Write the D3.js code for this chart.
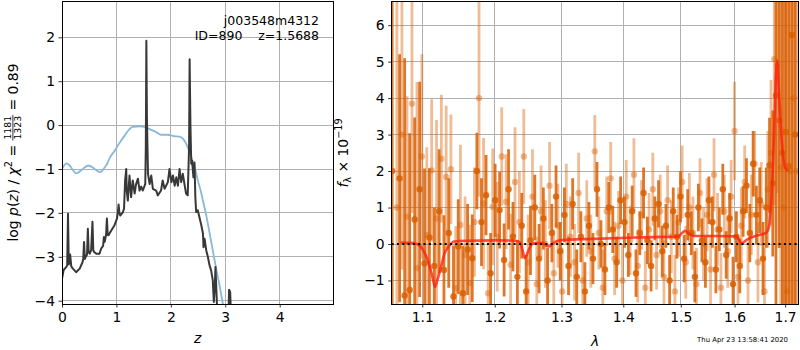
<!DOCTYPE html>
<html><head><meta charset="utf-8">
<script src="https://cdn.jsdelivr.net/npm/d3@7"></script>
<style>body{margin:0;background:#fff} text{font-family:"DejaVu Sans",sans-serif; white-space:pre}</style>
</head><body><svg id="chart" width="800" height="350"></svg>
<script>
// ---------- left panel data: log p(z) and scaled chi2 ----------
const pzZ = [0.00,0.03,0.08,0.095,0.11,0.125,0.15,0.17,0.20,0.26,0.325,0.375,0.39,0.405,0.42,0.435,0.46,0.475,0.49,0.51,0.535,0.56,0.575,0.59,0.63,0.69,0.72,0.755,0.77,0.785,0.81,0.825,0.84,0.855,0.905,0.965,1.01,1.025,1.04,1.055,1.07,1.12,1.14,1.16,1.18,1.19,1.21,1.24,1.27,1.30,1.335,1.36,1.395,1.425,1.455,1.485,1.53,1.54,1.55,1.56,1.58,1.61,1.64,1.67,1.73,1.76,1.82,1.85,1.885,1.945,1.975,2.01,2.04,2.07,2.10,2.13,2.16,2.19,2.22,2.255,2.28,2.31,2.335,2.345,2.36,2.375,2.39,2.415,2.435,2.45,2.465,2.495,2.525,2.56,2.59,2.60,2.62,2.65,2.68,2.71,2.74,2.77,2.79,2.81,2.82,2.845,2.87,3.00,3.055,3.07,3.09,3.11,3.25];
const pzLog = [-3.50,-3.30,-3.23,-3.20,-2.02,-3.17,-2.95,-3.22,-3.27,-3.35,-3.27,-3.13,-3.05,-2.66,-3.05,-3.00,-2.95,-2.36,-2.90,-2.93,-2.85,-2.20,-2.85,-2.89,-2.93,-2.93,-2.81,-2.75,-2.55,-2.66,-2.50,-2.13,-2.50,-2.51,-2.40,-2.28,-2.13,-2.00,-1.81,-2.00,-2.06,-1.98,-1.90,-1.25,-1.00,-1.50,-1.72,-1.15,-1.64,-1.26,-1.56,-1.35,-1.22,-1.49,-1.40,-1.49,-1.34,-0.50,1.92,0.20,-1.11,-1.34,-1.15,-1.45,-1.49,-1.60,-1.49,-1.26,-1.45,-1.30,-1.00,-1.30,-1.15,-1.38,-1.19,-1.38,-1.00,-1.30,-1.11,-1.38,-1.56,-1.60,-0.50,1.50,0.00,-0.88,-0.81,-1.19,-0.85,-1.64,-1.98,-1.94,-2.10,-2.28,-2.47,-2.78,-2.59,-2.85,-3.00,-3.19,-3.31,-3.53,-4.03,-3.61,-3.23,-4.03,-4.50,-5.00,-4.50,-3.75,-3.80,-4.50,-6.00];
const chiZ = [0,0.04,0.08,0.14,0.20,0.26,0.32,0.40,0.48,0.57,0.63,0.69,0.74,0.78,0.83,0.88,0.97,1.06,1.15,1.24,1.30,1.43,1.55,1.64,1.73,1.82,1.94,2.05,2.16,2.22,2.28,2.34,2.40,2.45,2.50,2.55,2.60,2.65,2.70,2.77,2.83,2.89,2.96];
const chiY = [-1.0,-0.92,-0.87,-0.92,-1.02,-1.10,-1.06,-0.98,-0.92,-0.97,-1.03,-1.07,-1.04,-0.97,-0.88,-0.74,-0.58,-0.40,-0.24,-0.09,-0.04,-0.03,-0.06,-0.11,-0.16,-0.22,-0.22,-0.25,-0.26,-0.31,-0.42,-0.60,-0.81,-1.02,-1.28,-1.50,-1.78,-2.05,-2.38,-2.85,-3.25,-3.62,-4.10];
const zTicks = [0,1,2,3,4];
const pzTicks = [-4,-3,-2,-1,0,1,2];
const titleLines = ["j003548m4312", "ID=890    z=1.5688"];

// ---------- right panel data: spectrum ----------
const waveA = [1.061,1.0705,1.077,1.0835,1.090,1.0965,1.103,1.1095,1.116,1.1225,1.129,1.1355,1.142,1.1485,1.155,1.1615,1.168,1.1745,1.181,1.1875,1.194,1.2005,1.207,1.2135,1.220,1.2265,1.233,1.2395,1.246,1.2525,1.259,1.2655,1.272,1.2785,1.285,1.2915,1.298,1.3045,1.311,1.3175,1.324,1.3305,1.337,1.3435,1.350,1.3565,1.363,1.3695,1.376,1.3825,1.389,1.3955,1.402,1.4085,1.415,1.4215,1.428,1.4345,1.441,1.4475,1.454,1.4605,1.467,1.4735,1.480,1.4865,1.493,1.4995,1.506,1.5125,1.519,1.5255,1.532,1.5385,1.545,1.5515,1.558,1.5645,1.571,1.5775,1.584,1.5905,1.597,1.6035,1.610,1.6165,1.623,1.6295,1.636,1.6425,1.649,1.6555,1.662,1.6685,1.675,1.6815,1.688,1.6945,1.701,1.7075,1.714,1.7205];
const fluxA = [2.0,1.8,-1.41,-1.26,0.67,1.5,-0.53,0.18,-0.6,0.9,
 -0.71,0.3,-1.44,-0.07,-1.35,-0.15,-0.39,2.0,0.6,1.34,
 -0.8,1.2,0.93,-0.44,1.5,0.2,-0.9,0.5,-1.3,0.1,
 1.0,-0.4,0.7,-1.0,0.3,1.3,-0.2,0.8,-0.6,1.1,
 -0.9,0.2,-1.3,0.5,-0.4,1.5,0.0,-0.7,1.0,0.4,
 -0.5,1.2,0.6,-0.3,0.9,-0.8,0.3,1.4,0.1,-0.6,
 0.7,1.1,-0.2,0.5,-1.0,0.9,0.2,1.3,-0.4,0.8,
 0.3,-0.9,1.0,0.1,-0.5,1.2,0.6,-0.7,0.4,1.5,
 -0.3,0.7,-1.1,0.2,-0.6,0.9,1.6,0.3,2.2,0.8,
 1.2,-0.4,1.0,2.16,1.66,4.07,3.39,2.5,3.07,2.14,5.73,3.0];
const errA = [6.0,3.4,6.5,4.3,2.8,2.95,2.6,1.9,1.6,1.7,
 1.5,1.5,1.4,1.3,1.3,1.25,1.2,1.05,1.2,1.1,
 1.1,1.0,1.05,1.0,1.1,0.95,1.0,0.9,1.0,0.95,
 0.9,0.95,0.85,0.9,0.8,0.85,0.8,0.75,0.8,0.7,
 0.75,0.7,0.8,0.65,0.7,0.75,0.65,0.7,0.7,0.65,
 0.7,0.65,0.7,0.6,0.7,0.65,0.6,0.7,0.65,0.7,
 0.6,0.65,0.7,0.6,0.7,0.65,0.6,0.7,0.65,0.7,
 0.6,0.7,0.65,0.6,0.7,0.65,0.7,0.65,0.6,0.7,
 0.65,0.7,0.75,0.7,0.75,0.7,0.75,0.8,0.9,0.8,
 0.9,1.0,1.1,1.3,2.0,7.0,3.5,5.0,8.0,6.0,9.0,9.0];
const waveB = [1.067,1.0735,1.080,1.0865,1.093,1.0995,1.106,1.1125,1.119,1.1255,1.132,1.1385,1.145,1.1515,1.158,1.1645,1.171,1.1775,1.184,1.1905,1.197,1.2035,1.210,1.2165,1.223,1.2295,1.236,1.2425,1.249,1.2555,1.262,1.2685,1.275,1.2815,1.288,1.2945,1.301,1.3075,1.314,1.3205,1.327,1.3335,1.340,1.3465,1.353,1.3595,1.366,1.3725,1.379,1.3855,1.392,1.3985,1.405,1.4115,1.418,1.4245,1.431,1.4375,1.444,1.4505,1.457,1.4635,1.470,1.4765,1.483,1.4895,1.496,1.5025,1.509,1.5155,1.522,1.5285,1.535,1.5415,1.548,1.5545,1.561,1.5675,1.574,1.5805,1.587,1.5935,1.600,1.6065,1.613,1.6195,1.626,1.6325,1.639,1.6455,1.652,1.6585,1.665,1.6715,1.678,1.6845,1.691,1.6975,1.704,1.7105,1.717,1.7235];
const fluxB = [1.0,3.0,0.75,3.85,-0.66,2.4,0.25,2.02,0.70,2.34,
 1.84,2.05,-1.21,0.52,-0.3,-1.07,0.6,4.0,1.11,-1.35,
 1.02,0.2,2.4,1.16,-0.57,1.7,0.6,2.4,-0.5,1.3,
 -1.1,0.9,0.0,1.6,-0.8,0.5,-1.3,1.1,0.2,-0.5,
 1.4,-1.0,0.7,-0.2,2.54,0.3,-1.2,0.9,1.8,-0.4,
 0.5,-1.0,1.3,0.1,1.9,-0.6,0.8,-1.2,0.4,1.5,
 -0.3,0.9,-0.9,1.2,0.2,-1.3,0.6,1.7,-0.5,1.0,
 0.3,-1.1,1.4,0.0,0.8,-0.7,1.9,0.4,-1.2,0.9,
 -0.2,1.3,3.1,-0.9,0.5,1.7,-1.0,0.8,2.2,-0.5,
 1.1,-1.3,1.5,2.5,5.07,4.9,2.1,1.0,-1.3,2.0,4.0,2.0];
const errB = [6.0,3.7,3.3,3.0,5.1,2.8,2.4,1.95,2.7,1.75,
 1.95,1.5,1.7,2.2,1.6,1.6,1.5,2.7,1.8,1.4,
 1.6,1.5,1.35,1.3,1.4,1.5,1.4,1.3,1.3,1.3,
 1.3,1.25,1.2,1.2,1.2,1.15,1.2,1.1,1.1,1.05,
 1.1,1.0,1.05,1.0,1.0,1.0,1.05,0.95,1.0,1.0,
 0.95,1.0,1.0,0.95,1.0,1.0,0.95,1.0,1.0,1.0,
 0.95,1.0,1.0,0.95,1.0,1.0,0.95,1.0,1.0,0.95,
 1.0,1.0,0.95,1.0,1.0,0.95,1.0,1.0,0.95,1.0,
 1.0,1.0,1.35,1.0,1.05,1.0,1.05,1.1,0.9,1.1,
 1.15,1.2,1.6,2.0,4.0,3.5,5.5,6.0,8.0,6.0,7.0,8.0];
const modelWave = [1.072,1.085,1.093,1.101,1.106,1.110,1.114,1.117,1.120,1.124,1.130,1.137,1.143,1.160,1.200,1.230,1.237,1.241,1.244,1.248,1.252,1.258,1.270,1.276,1.281,1.287,1.297,1.312,1.350,1.406,1.450,1.496,1.502,1.508,1.515,1.523,1.560,1.604,1.609,1.614,1.620,1.624,1.640,1.652,1.663,1.667,1.670,1.673,1.6775,1.6816,1.684,1.688,1.693,1.700,1.705];
const modelFlux = [0.04,0.03,0.00,-0.16,-0.38,-0.62,-0.95,-1.18,-1.00,-0.71,-0.25,-0.03,0.07,0.09,0.10,0.09,0.04,-0.20,-0.39,-0.25,-0.07,0.02,0.03,-0.03,-0.07,0.02,0.10,0.12,0.14,0.17,0.19,0.21,0.30,0.36,0.28,0.22,0.22,0.21,0.10,0.01,0.08,0.12,0.22,0.26,0.32,0.45,0.80,1.40,3.00,4.67,5.03,4.00,2.84,2.10,2.00];
const lamTicks = [1.1,1.2,1.3,1.4,1.5,1.6,1.7];
const fTicks = [-1,0,1,2,3,4,5,6];
const stamp = "Thu Apr 23 13:58:41 2020";

// ---------- layout ----------
const svg = d3.select('#chart');
const L = {l:62, r:333.3, t:1, b:304};
const R = {l:391.7, r:798.5, t:1, b:304};
const xL = d3.scaleLinear().domain([0, 4.985]).range([L.l, L.r]);
const yL = d3.scaleLinear().domain([-4.075, 2.827]).range([L.b, L.t]);
const xR = d3.scaleLog().domain([1.0604, 1.7275]).range([R.l, R.r]);
const yR = d3.scaleLinear().domain([-1.645, 6.663]).range([R.b, R.t]);
const FS = 13.9;

const defs = svg.append('defs');
[['clipL',L],['clipR',R]].forEach(([id,b])=>{
  defs.append('clipPath').attr('id',id).append('rect')
    .attr('x',b.l).attr('y',b.t).attr('width',b.r-b.l).attr('height',b.b-b.t);
});

function grid(b, xs, xt, ys, yt){
  const g = svg.append('g').attr('stroke','#b0b0b0').attr('stroke-width',1).attr('shape-rendering','crispEdges');
  g.selectAll('.gx').data(xt).join('line').attr('x1',d=>xs(d)).attr('x2',d=>xs(d)).attr('y1',b.t).attr('y2',b.b);
  g.selectAll('.gy').data(yt).join('line').attr('y1',d=>ys(d)).attr('y2',d=>ys(d)).attr('x1',b.l).attr('x2',b.r);
}
function axes(b, xs, xt, xf, ys, yt, yf){
  const gx = svg.append('g').attr('transform',`translate(0,${b.b})`)
    .call(d3.axisBottom(xs).tickValues(xt).tickFormat(xf).tickSize(3.5).tickPadding(5.1));
  const gy = svg.append('g').attr('transform',`translate(${b.l},0)`)
    .call(d3.axisLeft(ys).tickValues(yt).tickFormat(yf).tickSize(3.5).tickPadding(3.5));
  [gx,gy].forEach(g=>{
    g.select('.domain').remove();
    g.attr('font-size',FS).attr('font-family','DejaVu Sans');
    g.selectAll('line').attr('stroke','#000').attr('stroke-width',0.8);
    g.selectAll('text').attr('fill','#000');
  });
  svg.append('rect').attr('x',b.l).attr('y',b.t).attr('width',b.r-b.l).attr('height',b.b-b.t)
    .attr('fill','none').attr('stroke','#000').attr('stroke-width',1).attr('shape-rendering','crispEdges');
}

// ---------- left panel ----------
grid(L, xL, zTicks, yL, pzTicks);
const gL = svg.append('g').attr('clip-path','url(#clipL)');
gL.append('path').datum(chiZ.map((z,i)=>[z,chiY[i]]))
  .attr('d', d3.line().x(d=>xL(d[0])).y(d=>yL(d[1])).curve(d3.curveMonotoneX))
  .attr('fill','none').attr('stroke','#88b8db').attr('stroke-width',1.8);
gL.append('path').datum(pzZ.map((z,i)=>[z,pzLog[i]]))
  .attr('d', d3.line().x(d=>xL(d[0])).y(d=>yL(d[1])))
  .attr('fill','none').attr('stroke','#383838').attr('stroke-width',2).attr('stroke-linejoin','round');
axes(L, xL, zTicks, d3.format('d'), yL, pzTicks, d3.format('d'));

svg.append('g').selectAll('text').data(titleLines).join('text')
  .attr('x',319).attr('y',(d,i)=>24.5+i*15).attr('text-anchor','end')
  .attr('font-size',12.5).attr('fill','#000').text(d=>d);

// x label z
svg.append('text').attr('x',(L.l+L.r)/2).attr('y',342.6).attr('text-anchor','middle')
  .attr('font-size',FS).attr('font-style','italic').text('z');

// y label left (rotated, with fraction)
(function(){
  const outer = svg.append('g').attr('transform','translate(17.5,152.5) rotate(-90)');
  const g = outer.append('g');
  const t1 = g.append('text').attr('font-size',FS);
  t1.append('tspan').text('log ');
  t1.append('tspan').attr('font-style','italic').text('p');
  t1.append('tspan').text('(');
  t1.append('tspan').attr('font-style','italic').text('z');
  t1.append('tspan').text(') / ');
  t1.append('tspan').attr('font-style','italic').text('χ');
  t1.append('tspan').attr('font-size',9.7).attr('dy',-5.5).text('2');
  t1.append('tspan').attr('dy',5.5).text(' = ');
  const w1 = t1.node().getComputedTextLength();
  const num = g.append('text').attr('font-size',9.3).attr('text-anchor','middle').attr('y',-6.3).text('1181');
  const den = g.append('text').attr('font-size',9.3).attr('text-anchor','middle').attr('y',3.2).text('1323');
  const wf = Math.max(num.node().getComputedTextLength(), den.node().getComputedTextLength()) + 2;
  num.attr('x', w1 + wf/2); den.attr('x', w1 + wf/2);
  g.append('line').attr('x1',w1).attr('x2',w1+wf).attr('y1',-4.6).attr('y2',-4.6).attr('stroke','#000').attr('stroke-width',0.8);
  const t3 = g.append('text').attr('font-size',FS).attr('x',w1+wf).text(' = 0.89');
  const W = w1 + wf + t3.node().getComputedTextLength();
  g.attr('transform',`translate(${-W/2},0)`);
})();

// ---------- right panel ----------
grid(R, xR, lamTicks, yR, fTicks);
const gR = svg.append('g').attr('clip-path','url(#clipR)');
function spectrum(w, f, e, color, op){
  const d = w.map((x,i)=>({x, f:f[i], e:e[i]}));
  const g = gR.append('g');
  g.selectAll('line').data(d).join('line')
    .attr('x1',p=>xR(p.x)).attr('x2',p=>xR(p.x))
    .attr('y1',p=>yR(p.f-p.e)).attr('y2',p=>yR(p.f+p.e))
    .attr('stroke',color).attr('stroke-width',2.8).attr('stroke-opacity',op);
  g.selectAll('circle').data(d).join('circle')
    .attr('cx',p=>xR(p.x)).attr('cy',p=>yR(p.f)).attr('r',3.2)
    .attr('fill',color).attr('fill-opacity',op);
}
spectrum(waveB, fluxB, errB, '#d95f02', 0.42);
spectrum(waveA, fluxA, errA, '#d95f02', 0.85);
gR.append('path').datum(modelWave.map((w,i)=>[w,modelFlux[i]]))
  .attr('d', d3.line().x(d=>xR(d[0])).y(d=>yR(d[1])).curve(d3.curveMonotoneX))
  .attr('fill','none').attr('stroke','#ff2010').attr('stroke-opacity',0.8).attr('stroke-width',2.6);
gR.append('line').attr('x1',R.l).attr('x2',R.r).attr('y1',yR(0)).attr('y2',yR(0))
  .attr('stroke','#000').attr('stroke-width',2).attr('stroke-dasharray','2,3.3');
axes(R, xR, lamTicks, d3.format('.1f'), yR, fTicks, d3.format('d'));

svg.append('text').attr('x',(R.l+R.r)/2).attr('y',345.5).attr('text-anchor','middle')
  .attr('font-size',FS).attr('font-style','italic').text('λ');

(function(){
  const g = svg.append('g').attr('transform','translate(348,153) rotate(-90)');
  const t = g.append('text').attr('font-size',FS).attr('text-anchor','middle');
  t.append('tspan').attr('font-style','italic').text('f');
  t.append('tspan').attr('font-size',9.7).attr('dy',3).text('λ');
  t.append('tspan').attr('dy',-3).text(' × 10');
  t.append('tspan').attr('font-size',9.7).attr('dy',-6).text('−19');
})();

svg.append('text').attr('x',788).attr('y',341.7).attr('text-anchor','end')
  .attr('font-size',6.9).attr('fill','#000').text(stamp);
</script>
</body></html>
